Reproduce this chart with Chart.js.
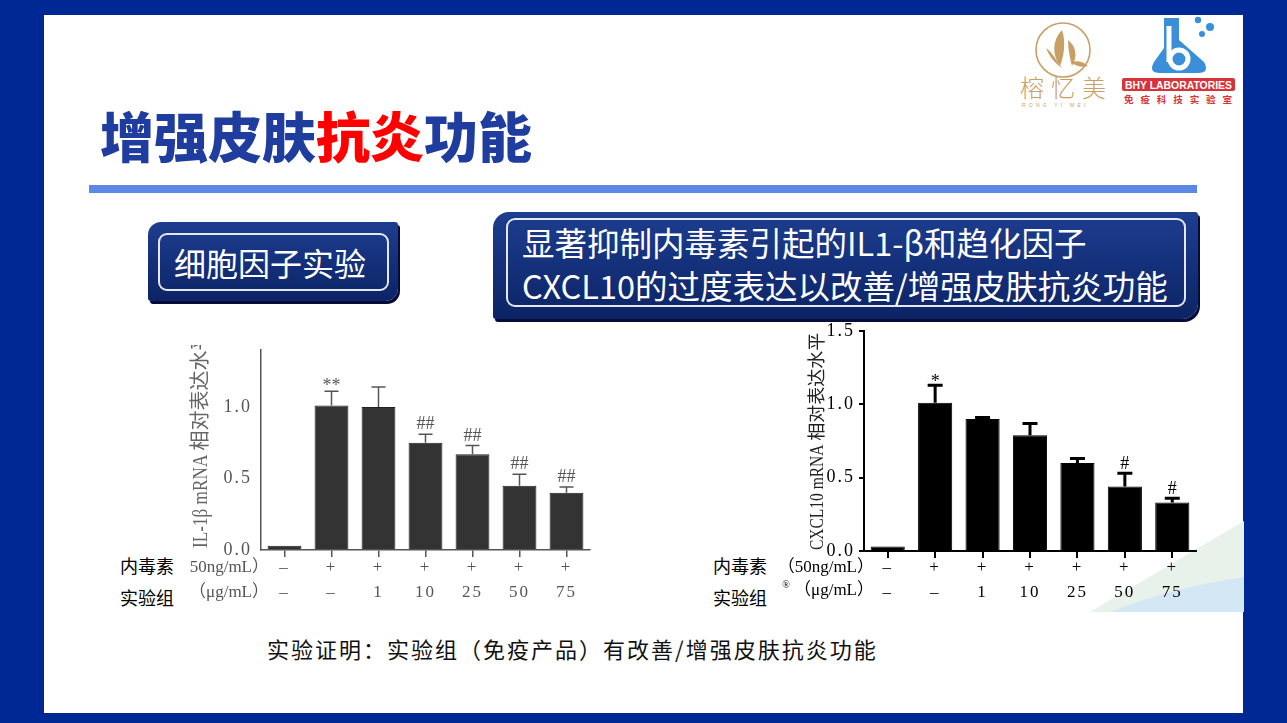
<!DOCTYPE html>
<html><head><meta charset="utf-8">
<script src="https://cdn.jsdelivr.net/npm/chart.js@4.4.1/dist/chart.umd.min.js"></script>
<style>
html,body{margin:0;padding:0;width:1287px;height:723px;overflow:hidden;background:#002894;}
.abs{position:absolute;}
#panel{left:44px;top:15px;width:1199px;height:698px;background:#fff;}
#rule{left:89px;top:185px;width:1108px;height:8px;background:#5d88e6;}
#title{left:100px;top:104px;font:900 54px 'Noto Sans CJK SC';color:#1f3d9e;line-height:62px;white-space:nowrap;}
.box{background:linear-gradient(#1d3d8f,#0c2466);box-shadow:2px 3px 0 #070b3a;}
.inner{border:2px solid #e4e8f2;border-radius:9px;box-sizing:border-box;}
.boxtxt{color:#fff;font-family:'Noto Sans CJK SC';white-space:nowrap;}
.lab{font:18px 'Noto Sans CJK SC';color:#000;line-height:22px;white-space:nowrap;}
#note{left:267px;top:634px;font:22px 'Noto Sans CJK SC';letter-spacing:2px;color:#111;line-height:28px;white-space:nowrap;}
</style></head><body>
<div class="abs" id="panel"></div>
<div class="abs" id="rule"></div>
<div class="abs" id="title">增强皮肤<span style="color:#ff0000">抗炎</span>功能</div>

<svg class="abs" style="left:0;top:0" width="1287" height="723">
  <!-- 榕忆美 logo -->
  <circle cx="1063" cy="50" r="27" fill="none" stroke="#c9a064" stroke-width="1.6"/>
  <path d="M1062,30 C1052,40 1052,55 1060,66 C1064,56 1066,42 1062,30 Z" fill="#c9a064"/>
  <path d="M1046,48 C1050,58 1056,64 1062,68 C1056,60 1052,52 1046,48 Z" fill="#c9a064"/>
  <path d="M1068,40 C1076,46 1078,56 1072,66 C1070,58 1068,50 1068,40 Z" fill="#c9a064"/>
  <path d="M1070,62 C1078,60 1084,62 1088,66 C1082,68 1076,66 1070,62 Z" fill="#c9a064"/>
  <text x="1020" y="97" font-family="Noto Sans CJK SC" font-weight="300" font-size="24" fill="#c9a064" letter-spacing="7">榕忆美</text>
  <text x="1022" y="107" font-family="Liberation Sans" font-size="5" fill="#c9a064" letter-spacing="3.2">RONG YI MEI</text>
  <!-- BHY logo -->
  <path d="M1164,18 L1179,18 L1179,40 L1204,62 Q1210,73 1198,73 L1160,73 Q1148,73 1154,62 L1164,48 Z" fill="#3a8fd8"/>
  <path d="M1169,26 L1169,62" stroke="#fff" stroke-width="5"/>
  <circle cx="1179" cy="59" r="9" fill="none" stroke="#fff" stroke-width="5"/>
  <circle cx="1198" cy="20" r="3.2" fill="#3a8fd8"/>
  <circle cx="1210" cy="27" r="4" fill="#3a8fd8"/>
  <circle cx="1202" cy="34" r="3" fill="#3a8fd8"/>
  <rect x="1122" y="78" width="113" height="13" rx="2" fill="#d6343a"/>
  <text x="1125" y="89" font-family="Liberation Sans" font-weight="bold" font-size="11.5" fill="#fff" textLength="107" lengthAdjust="spacingAndGlyphs">BHY LABORATORIES</text>
  <text x="1124" y="103" font-family="Noto Sans CJK SC" font-weight="bold" font-size="9.5" fill="#d6343a" textLength="108" lengthAdjust="spacing">免疫科技实验室</text>
  <!-- bottom right decoration -->
  <polygon points="1090,612 1244,521 1244,612" fill="#e8f1ea"/>
  <path d="M1110,612 Q1170,588 1244,577 L1244,612 Z" fill="#d3e7f5"/>
</svg>

<div class="abs box" style="left:148px;top:222px;width:250px;height:79px;border-radius:13px 3px 13px 3px;"></div>
<div class="abs inner" style="left:158px;top:233px;width:231px;height:58px;"></div>
<div class="abs boxtxt" style="left:174px;top:242px;font-size:32px;line-height:40px;">细胞因子实验</div>

<div class="abs box" style="left:493px;top:212px;width:705px;height:107px;border-radius:16px 3px 16px 3px;"></div>
<div class="abs inner" style="left:506px;top:218px;width:680px;height:89px;"></div>
<div class="abs boxtxt" style="left:522px;top:220px;font-size:32.5px;line-height:43px;">显著抑制内毒素引起的IL1-β和趋化因子<br>CXCL10的过度表达以改善/增强皮肤抗炎功能</div>

<div class="abs lab" style="left:120px;top:554px;">内毒素</div>
<div class="abs lab" style="left:120px;top:586px;">实验组</div>
<div class="abs lab" style="left:713px;top:554px;">内毒素</div>
<div class="abs lab" style="left:713px;top:586px;">实验组</div>

<div class="abs" style="left:175px;top:345px;width:425px;height:267px;overflow:hidden;">
  <div class="abs" style="left:0;top:-15px;width:425px;height:282px;"><canvas id="c1"></canvas></div>
</div>
<div class="abs" style="left:770px;top:316px;width:436px;height:297px;"><canvas id="c2"></canvas></div>

<div class="abs" id="note">实验证明：实验组（免疫产品）有改善/增强皮肤抗炎功能</div>

<script>
// ---- data ----
const lpsRow = ['–', '+', '+', '+', '+', '+', '+'];
const doseRow = ['–', '–', '1', '10', '25', '50', '75'];
const il1bValues = [0.03, 1.01, 1.00, 0.75, 0.67, 0.45, 0.40];
const il1bErrors = [0.00, 0.10, 0.14, 0.06, 0.06, 0.08, 0.04];
const il1bMarks = ['', '**', '', '##', '##', '##', '##'];
const il1bTicks = [0, 0.5, 1.0];
const il1bMax = 1.4;
const il1bTitle = 'IL-1β mRNA 相对表达水平';
const il1bUnits = ['50ng/mL）', '（μg/mL）'];

const cxcl10Values = [0.03, 1.01, 0.90, 0.79, 0.60, 0.44, 0.33];
const cxcl10Errors = [0.00, 0.12, 0.01, 0.08, 0.03, 0.09, 0.03];
const cxcl10Marks = ['', '*', '', '', '', '#', '#'];
const cxcl10Ticks = [0, 0.5, 1.0, 1.5];
const cxcl10Max = 1.5;
const cxcl10Title = 'CXCL10 mRNA 相对表达水平';
const cxcl10Units = ['（50ng/mL）', '（μg/mL）'];

const labels = lpsRow.map((a, i) => [a, doseRow[i]]);
const SERIF = "'Liberation Serif','Noto Sans CJK SC'";
const isLatin = s => /^[\u0000-\u03ff]/.test(s);

// draw text whose Latin runs are horizontally condensed (like the narrow half-width glyphs of the original)
function drawMixed(ctx, text, size, x, y, align, latinScale) {
  const runs = text.match(/[\u0000-\u03ff]+|[^\u0000-\u03ff]+/g);
  ctx.font = size + 'px ' + SERIF;
  const widths = runs.map(r => ctx.measureText(r).width * (isLatin(r) ? latinScale : 1));
  const total = widths.reduce((a, b) => a + b, 0);
  let cx = align === 'right' ? x - total : (align === 'center' ? x - total / 2 : x);
  runs.forEach((r, i) => {
    ctx.save();
    ctx.translate(cx, y);
    ctx.scale(isLatin(r) ? latinScale : 1, 1);
    ctx.textAlign = 'left';
    ctx.fillText(r, 0, 0);
    ctx.restore();
    cx += widths[i];
  });
}

function makeChart(id, o) {
  const overlay = {
    id: 'overlay_' + id,
    beforeDraw(chart) { chart.ctx.letterSpacing = '2px'; },
    beforeDatasetsDraw(chart) { chart.ctx.letterSpacing = '0px'; },
    afterDatasetsDraw(chart) {
      const ctx = chart.ctx, y = chart.scales.y, x = chart.scales.x, area = chart.chartArea;
      const meta = chart.getDatasetMeta(0);
      ctx.save();
      ctx.letterSpacing = '0px';
      ctx.strokeStyle = o.color; ctx.fillStyle = o.color; ctx.lineWidth = o.errWidth;
      o.values.forEach((v, i) => {
        const bx = meta.data[i].x;
        const yBar = y.getPixelForValue(v);
        const yTop = y.getPixelForValue(v + o.errors[i]);
        if (o.errors[i] > 0) {
          ctx.beginPath();
          ctx.moveTo(bx, yBar); ctx.lineTo(bx, yTop);
          ctx.moveTo(bx - o.cap / 2, yTop); ctx.lineTo(bx + o.cap / 2, yTop);
          ctx.stroke();
        }
        const m = o.marks[i];
        if (m) {
          ctx.font = '18px ' + SERIF;
          ctx.textAlign = 'center'; ctx.textBaseline = 'alphabetic';
          ctx.fillText(m, bx, yTop - (m.indexOf('#') >= 0 ? o.hashGap : o.starGap));
        }
      });
      // unit labels for the two label rows
      ctx.textBaseline = 'middle';
      const row0 = x.top + 7 + o.tickPad + 12.5;
      o.units.forEach((u, r) => drawMixed(ctx, u, 17, area.left + o.unitShift, row0 + 25 * r - (r ? o.row2Lift : 0), 'right', 1));
      if (o.reg) {
        ctx.font = '10px ' + SERIF; ctx.textAlign = 'center';
        ctx.fillText('®', area.left - 78, row0 + 18);
      }
      // rotated y-axis title, starting at the bottom of the axis
      ctx.fillStyle = o.titleColor;
      ctx.translate(o.titleX, area.bottom - o.titleBottomGap);
      ctx.rotate(-Math.PI / 2);
      ctx.textBaseline = 'middle';
      drawMixed(ctx, o.title, o.titleSize, 0, 0, 'left', 0.86);
      ctx.restore();
    }
  };
  return new Chart(document.getElementById(id), {
    type: 'bar',
    data: { labels: labels, datasets: [{ data: o.values, backgroundColor: o.barColor, borderColor: o.barEdge, borderWidth: 1, borderSkipped: 'start', barPercentage: 0.72, categoryPercentage: 1 }] },
    options: {
      responsive: true, maintainAspectRatio: false, animation: false,
      layout: { padding: { top: 15, right: 10, left: 0, bottom: 0 } },
      plugins: { legend: { display: false }, tooltip: { enabled: false } },
      scales: {
        x: {
          afterFit(s) { s.height = 62; },
          grid: { drawOnChartArea: false, drawTicks: true, tickLength: 7, offset: false, color: o.color, lineWidth: o.axisWidth },
          border: { display: true, color: o.color, width: o.axisWidth },
          ticks: { color: o.color, font: { family: SERIF, size: 17, lineHeight: '25px' }, padding: o.tickPad, maxRotation: 0, autoSkip: false }
        },
        y: {
          min: 0, max: o.max,
          afterFit(s) { s.width = o.yWidth; },
          afterBuildTicks(s) { s.ticks = o.ticks.map(v => ({ value: v })); },
          grid: { drawOnChartArea: false, drawTicks: o.yTickLen > 0, tickLength: o.yTickLen, color: o.color, lineWidth: o.axisWidth },
          border: { display: true, color: o.color, width: o.axisWidth },
          ticks: { color: o.color, font: { family: SERIF, size: 18 }, padding: o.yPad, callback: v => Number(v).toFixed(1) },
          title: { display: false }
        }
      }
    },
    plugins: [overlay]
  });
}

makeChart('c1', {
  values: il1bValues, errors: il1bErrors, marks: il1bMarks, ticks: il1bTicks, max: il1bMax,
  title: il1bTitle, titleSize: 20, titleX: 27, titleBottomGap: 2, titleColor: '#666666',
  units: il1bUnits, color: '#555555', barColor: '#333333', barEdge: '#222222',
  axisWidth: 1.5, errWidth: 1.5, cap: 14, starGap: 0, hashGap: 5, yWidth: 86, yTickLen: 0, yPad: 9,
  tickPad: -2, unitShift: 8, row2Lift: 0, reg: false
});
makeChart('c2', {
  values: cxcl10Values, errors: cxcl10Errors, marks: cxcl10Marks, ticks: cxcl10Ticks, max: cxcl10Max,
  title: cxcl10Title, titleSize: 18, titleX: 48, titleBottomGap: 1, titleColor: '#222222',
  units: cxcl10Units, color: '#000000', barColor: '#000000', barEdge: '#000000',
  axisWidth: 2, errWidth: 3, cap: 15, starGap: -2, hashGap: 4, yWidth: 94, yTickLen: 5, yPad: 4,
  tickPad: -3, unitShift: 10, row2Lift: 2, reg: true
});
</script>
</body></html>
